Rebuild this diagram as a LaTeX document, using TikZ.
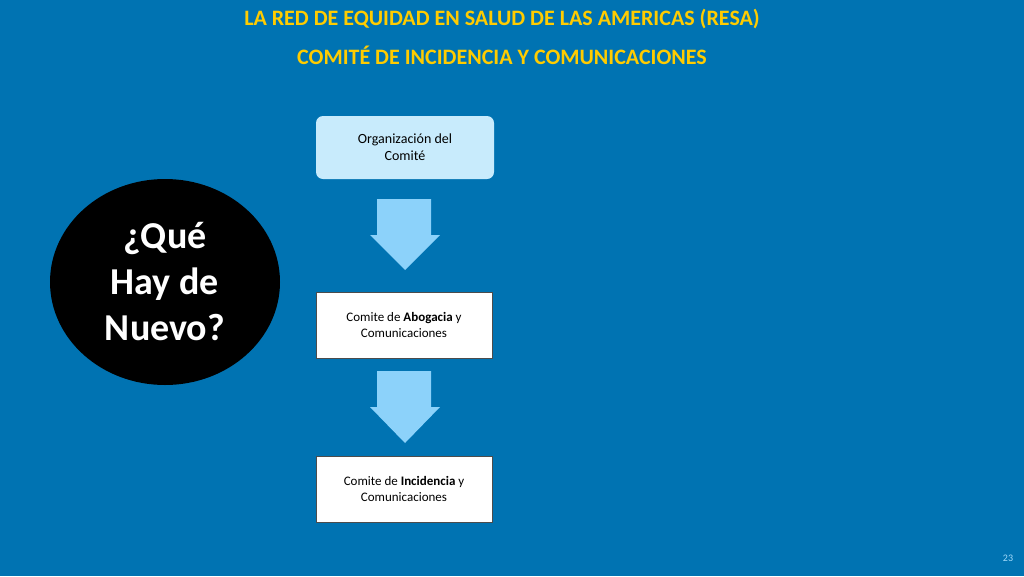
\documentclass[tikz,border=0pt]{standalone}
\usepackage{fontspec}
\setmainfont{Carlito}
\usetikzlibrary{shapes.geometric}
\definecolor{bg}{RGB}{0,115,178}
\definecolor{ttl}{RGB}{255,204,0}
\definecolor{arr}{RGB}{140,210,250}
\definecolor{lb}{RGB}{200,235,252}
\begin{document}
\begin{tikzpicture}[x=1pt,y=-1pt,
  box/.style={draw=black!70,fill=white,line width=0.8pt,minimum width=176pt,minimum height=66pt,align=center,font=\fontsize{13}{16}\selectfont},
  arrowshape/.style={fill=arr,draw=none}]
\useasboundingbox (0,0) rectangle (1024,576);
\fill[bg] (0,0) rectangle (1024,576);
\node[text=ttl,font=\bfseries\fontsize{22}{26}\selectfont] (t1) at (502,19) {LA RED DE EQUIDAD EN SALUD DE LAS AMERICAS (RESA)};
\node[text=ttl,font=\bfseries\fontsize{22}{26}\selectfont] (t2) at (502,55) {COMITÉ DE INCIDENCIA Y COMUNICACIONES};
\node[ellipse,fill=black,minimum width=230pt,minimum height=206pt,text=white,align=center,font=\bfseries\fontsize{38}{46}\selectfont] (q) at (165,282) {¿Qué\\Hay de\\Nuevo?};
\node[draw=none,fill=lb,rounded corners=7pt,minimum width=178pt,minimum height=63pt,align=center,font=\fontsize{14}{17}\selectfont] (b1) at (405,147.5) {Organización del\\Comité};
\node[box] (b2) at (404,325) {Comite de \textbf{Abogacia} y\\Comunicaciones};
\node[box] (b3) at (404,489) {Comite de \textbf{Incidencia} y\\Comunicaciones};
\fill[arrowshape] (377,199) -- (431,199) -- (431,235) -- (440,235) -- (405,270) -- (370,235) -- (377,235) -- cycle;
\fill[arrowshape] (377,371) -- (431,371) -- (431,407) -- (440,407) -- (405,443) -- (370,407) -- (377,407) -- cycle;
\node[text=arr!80!white,font=\fontsize{10}{12}\selectfont] (pn) at (1008,558) {23};
\end{tikzpicture}
\end{document}
